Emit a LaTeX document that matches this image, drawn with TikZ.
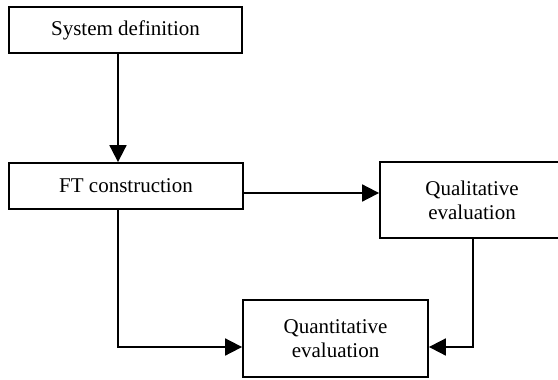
\documentclass[tikz,border=0pt]{standalone}
\usepackage{fontspec}
\setmainfont{Liberation Serif}
\usetikzlibrary{arrows.meta}
\begin{document}
\begin{tikzpicture}[x=1pt,y=-1pt,
  box/.style={draw,line width=1.8pt,rectangle,inner sep=0pt,align=center,
              font=\fontsize{21}{24}\selectfont},
  arr/.style={line width=1.8pt,-{Triangle[length=17pt,width=17pt]}}]
\clip (0,0) rectangle (558,380);
\useasboundingbox (0,0) rectangle (558,380);

% process boxes
\node[box,minimum width=233pt,minimum height=46pt] (sys) at (125.5,30) {System definition};
\node[box,minimum width=234pt,minimum height=46pt] (ft) at (126,186) {FT construction};
\node[box,minimum width=184pt,minimum height=76pt] (qual) at (472,200) {Qualitative\\evaluation};
\node[box,minimum width=185pt,minimum height=77pt] (quant) at (335.5,338.5) {Quantitative\\evaluation};

% connector guides
\coordinate (xl) at (118,0);
\coordinate (xr) at (473,0);
\coordinate (ymid) at (0,193);
\coordinate (ylow) at (0,347);

% connectors
\draw[arr] (sys.south -| xl) -- (ft.north -| xl);
\draw[arr] (ft.east |- ymid) -- (qual.west |- ymid);
\draw[arr] (ft.south -| xl) |- (quant.west |- ylow);
\draw[arr] (qual.south -| xr) |- (quant.east |- ylow);
\end{tikzpicture}
\end{document}
